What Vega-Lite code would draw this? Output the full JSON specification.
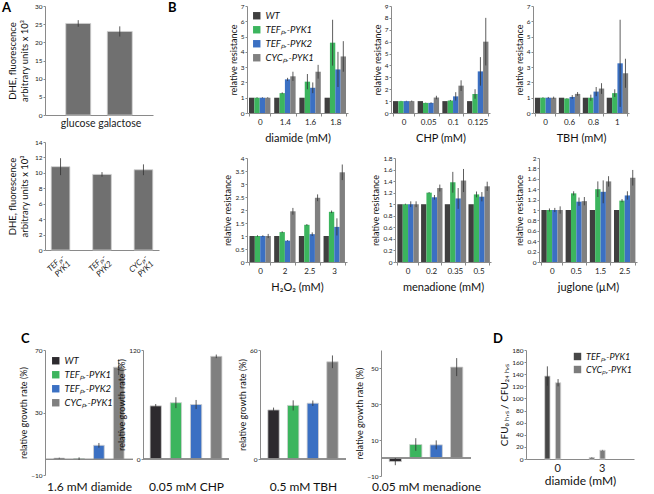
{
  "$schema": "https://vega.github.io/schema/vega-lite/v6.json",
  "padding": {"left": 2, "top": 2, "right": 2, "bottom": 0},
  "background": "white",
  "config": {
    "font": "Lato",
    "view": {"stroke": null},
    "axis": {"domainColor": "#8a8a8a", "tickColor": "#8a8a8a", "tickSize": 2, "labelFontSize": 6.5, "labelColor": "#222", "titleFontSize": 9, "titleFontWeight": "normal", "titleColor": "#111", "grid": false, "labelPadding": 1, "titlePadding": 2, "labelOverlap": false},
    "legend": {"symbolType": "square", "symbolStrokeWidth": 0, "labelFontStyle": "italic", "labelFontSize": 9.5, "symbolSize": 55, "rowPadding": 3, "padding": 0, "offset": 3, "labelColor": "#111"},
    "title": {"fontSize": 13, "fontWeight": "bold", "anchor": "start", "frame": "group", "color": "#000"}
  },
  "datasets": {
    "A1": [
      {"g": "glucose", "v": 25.2, "e": 0.9},
      {"g": "galactose", "v": 23.0, "e": 1.4}
    ],
    "A2": [
      {"g": "TEFₚᵣ- PYK1", "v": 10.8, "e": 1.1},
      {"g": "TEFₚᵣ- PYK2", "v": 9.8, "e": 0.3},
      {"g": "CYCₚᵣ- PYK1", "v": 10.4, "e": 0.7}
    ],
    "B": [
      {"p": "diamide", "c": "0", "s": "WT", "v": 1, "e": 0},
      {"p": "diamide", "c": "0", "s": "TEFₚᵣ-PYK1", "v": 1, "e": 0.03},
      {"p": "diamide", "c": "0", "s": "TEFₚᵣ-PYK2", "v": 1, "e": 0.03},
      {"p": "diamide", "c": "0", "s": "CYCₚᵣ-PYK1", "v": 1, "e": 0.03},
      {"p": "diamide", "c": "1.4", "s": "WT", "v": 1, "e": 0},
      {"p": "diamide", "c": "1.4", "s": "TEFₚᵣ-PYK1", "v": 1.3, "e": 0.05},
      {"p": "diamide", "c": "1.4", "s": "TEFₚᵣ-PYK2", "v": 2.2, "e": 0.1},
      {"p": "diamide", "c": "1.4", "s": "CYCₚᵣ-PYK1", "v": 2.4, "e": 0.3},
      {"p": "diamide", "c": "1.6", "s": "WT", "v": 1, "e": 0},
      {"p": "diamide", "c": "1.6", "s": "TEFₚᵣ-PYK1", "v": 2.05, "e": 0.5},
      {"p": "diamide", "c": "1.6", "s": "TEFₚᵣ-PYK2", "v": 1.65, "e": 0.35},
      {"p": "diamide", "c": "1.6", "s": "CYCₚᵣ-PYK1", "v": 2.7, "e": 0.45},
      {"p": "diamide", "c": "1.8", "s": "WT", "v": 1, "e": 0},
      {"p": "diamide", "c": "1.8", "s": "TEFₚᵣ-PYK1", "v": 4.6, "e": 1.5},
      {"p": "diamide", "c": "1.8", "s": "TEFₚᵣ-PYK2", "v": 2.85, "e": 1.15},
      {"p": "diamide", "c": "1.8", "s": "CYCₚᵣ-PYK1", "v": 3.7, "e": 1.0},
      {"p": "CHP", "c": "0", "s": "WT", "v": 1, "e": 0},
      {"p": "CHP", "c": "0", "s": "TEFₚᵣ-PYK1", "v": 1, "e": 0.02},
      {"p": "CHP", "c": "0", "s": "TEFₚᵣ-PYK2", "v": 1, "e": 0.03},
      {"p": "CHP", "c": "0", "s": "CYCₚᵣ-PYK1", "v": 1, "e": 0.05},
      {"p": "CHP", "c": "0.05", "s": "WT", "v": 1, "e": 0},
      {"p": "CHP", "c": "0.05", "s": "TEFₚᵣ-PYK1", "v": 0.85, "e": 0.02},
      {"p": "CHP", "c": "0.05", "s": "TEFₚᵣ-PYK2", "v": 0.85, "e": 0.05},
      {"p": "CHP", "c": "0.05", "s": "CYCₚᵣ-PYK1", "v": 1.3, "e": 0.15},
      {"p": "CHP", "c": "0.1", "s": "WT", "v": 1, "e": 0},
      {"p": "CHP", "c": "0.1", "s": "TEFₚᵣ-PYK1", "v": 1.05, "e": 0.05},
      {"p": "CHP", "c": "0.1", "s": "TEFₚᵣ-PYK2", "v": 1.4, "e": 0.35},
      {"p": "CHP", "c": "0.1", "s": "CYCₚᵣ-PYK1", "v": 2.3, "e": 0.45},
      {"p": "CHP", "c": "0.125", "s": "WT", "v": 1, "e": 0},
      {"p": "CHP", "c": "0.125", "s": "TEFₚᵣ-PYK1", "v": 1.6, "e": 0.4},
      {"p": "CHP", "c": "0.125", "s": "TEFₚᵣ-PYK2", "v": 3.5, "e": 1.2},
      {"p": "CHP", "c": "0.125", "s": "CYCₚᵣ-PYK1", "v": 6.0, "e": 2.0},
      {"p": "TBH", "c": "0", "s": "WT", "v": 1, "e": 0},
      {"p": "TBH", "c": "0", "s": "TEFₚᵣ-PYK1", "v": 1, "e": 0.03},
      {"p": "TBH", "c": "0", "s": "TEFₚᵣ-PYK2", "v": 1, "e": 0.05},
      {"p": "TBH", "c": "0", "s": "CYCₚᵣ-PYK1", "v": 1, "e": 0.07},
      {"p": "TBH", "c": "0.6", "s": "WT", "v": 1, "e": 0},
      {"p": "TBH", "c": "0.6", "s": "TEFₚᵣ-PYK1", "v": 0.95, "e": 0.02},
      {"p": "TBH", "c": "0.6", "s": "TEFₚᵣ-PYK2", "v": 1.05, "e": 0.12},
      {"p": "TBH", "c": "0.6", "s": "CYCₚᵣ-PYK1", "v": 1.25, "e": 0.12},
      {"p": "TBH", "c": "0.8", "s": "WT", "v": 1, "e": 0},
      {"p": "TBH", "c": "0.8", "s": "TEFₚᵣ-PYK1", "v": 1.0, "e": 0.2},
      {"p": "TBH", "c": "0.8", "s": "TEFₚᵣ-PYK2", "v": 1.4, "e": 0.3},
      {"p": "TBH", "c": "0.8", "s": "CYCₚᵣ-PYK1", "v": 1.6, "e": 0.35},
      {"p": "TBH", "c": "1", "s": "WT", "v": 1, "e": 0},
      {"p": "TBH", "c": "1", "s": "TEFₚᵣ-PYK1", "v": 1.3, "e": 0.25},
      {"p": "TBH", "c": "1", "s": "TEFₚᵣ-PYK2", "v": 3.25, "e": 2.85},
      {"p": "TBH", "c": "1", "s": "CYCₚᵣ-PYK1", "v": 2.6, "e": 0.95},
      {"p": "H2O2", "c": "0", "s": "WT", "v": 1, "e": 0},
      {"p": "H2O2", "c": "0", "s": "TEFₚᵣ-PYK1", "v": 1, "e": 0.03},
      {"p": "H2O2", "c": "0", "s": "TEFₚᵣ-PYK2", "v": 1, "e": 0.03},
      {"p": "H2O2", "c": "0", "s": "CYCₚᵣ-PYK1", "v": 1, "e": 0.08},
      {"p": "H2O2", "c": "2", "s": "WT", "v": 1, "e": 0},
      {"p": "H2O2", "c": "2", "s": "TEFₚᵣ-PYK1", "v": 1.15, "e": 0.03},
      {"p": "H2O2", "c": "2", "s": "TEFₚᵣ-PYK2", "v": 0.82, "e": 0.02},
      {"p": "H2O2", "c": "2", "s": "CYCₚᵣ-PYK1", "v": 1.95, "e": 0.13},
      {"p": "H2O2", "c": "2.5", "s": "WT", "v": 1, "e": 0},
      {"p": "H2O2", "c": "2.5", "s": "TEFₚᵣ-PYK1", "v": 1.43, "e": 0.03},
      {"p": "H2O2", "c": "2.5", "s": "TEFₚᵣ-PYK2", "v": 1.07, "e": 0.07},
      {"p": "H2O2", "c": "2.5", "s": "CYCₚᵣ-PYK1", "v": 2.47, "e": 0.13},
      {"p": "H2O2", "c": "3", "s": "WT", "v": 1, "e": 0},
      {"p": "H2O2", "c": "3", "s": "TEFₚᵣ-PYK1", "v": 1.93, "e": 0.05},
      {"p": "H2O2", "c": "3", "s": "TEFₚᵣ-PYK2", "v": 1.35, "e": 0.33},
      {"p": "H2O2", "c": "3", "s": "CYCₚᵣ-PYK1", "v": 3.45, "e": 0.3},
      {"p": "menadione", "c": "0", "s": "WT", "v": 1, "e": 0},
      {"p": "menadione", "c": "0", "s": "TEFₚᵣ-PYK1", "v": 1, "e": 0.01},
      {"p": "menadione", "c": "0", "s": "TEFₚᵣ-PYK2", "v": 1, "e": 0.05},
      {"p": "menadione", "c": "0", "s": "CYCₚᵣ-PYK1", "v": 1, "e": 0.05},
      {"p": "menadione", "c": "0.2", "s": "WT", "v": 1, "e": 0},
      {"p": "menadione", "c": "0.2", "s": "TEFₚᵣ-PYK1", "v": 1.2, "e": 0.01},
      {"p": "menadione", "c": "0.2", "s": "TEFₚᵣ-PYK2", "v": 1.12, "e": 0.04},
      {"p": "menadione", "c": "0.2", "s": "CYCₚᵣ-PYK1", "v": 1.28, "e": 0.06},
      {"p": "menadione", "c": "0.35", "s": "WT", "v": 1, "e": 0},
      {"p": "menadione", "c": "0.35", "s": "TEFₚᵣ-PYK1", "v": 1.38, "e": 0.18},
      {"p": "menadione", "c": "0.35", "s": "TEFₚᵣ-PYK2", "v": 1.1, "e": 0.18},
      {"p": "menadione", "c": "0.35", "s": "CYCₚᵣ-PYK1", "v": 1.41, "e": 0.2},
      {"p": "menadione", "c": "0.5", "s": "WT", "v": 1, "e": 0},
      {"p": "menadione", "c": "0.5", "s": "TEFₚᵣ-PYK1", "v": 1.17, "e": 0.05},
      {"p": "menadione", "c": "0.5", "s": "TEFₚᵣ-PYK2", "v": 1.13, "e": 0.08},
      {"p": "menadione", "c": "0.5", "s": "CYCₚᵣ-PYK1", "v": 1.31, "e": 0.08},
      {"p": "juglone", "c": "0", "s": "WT", "v": 1, "e": 0},
      {"p": "juglone", "c": "0", "s": "TEFₚᵣ-PYK1", "v": 1, "e": 0.03},
      {"p": "juglone", "c": "0", "s": "TEFₚᵣ-PYK2", "v": 1, "e": 0.04},
      {"p": "juglone", "c": "0", "s": "CYCₚᵣ-PYK1", "v": 1, "e": 0.07},
      {"p": "juglone", "c": "0.5", "s": "WT", "v": 1, "e": 0},
      {"p": "juglone", "c": "0.5", "s": "TEFₚᵣ-PYK1", "v": 1.32, "e": 0.04},
      {"p": "juglone", "c": "0.5", "s": "TEFₚᵣ-PYK2", "v": 1.16, "e": 0.08},
      {"p": "juglone", "c": "0.5", "s": "CYCₚᵣ-PYK1", "v": 1.17, "e": 0.08},
      {"p": "juglone", "c": "1.5", "s": "WT", "v": 1, "e": 0},
      {"p": "juglone", "c": "1.5", "s": "TEFₚᵣ-PYK1", "v": 1.4, "e": 0.15},
      {"p": "juglone", "c": "1.5", "s": "TEFₚᵣ-PYK2", "v": 1.35, "e": 0.22},
      {"p": "juglone", "c": "1.5", "s": "CYCₚᵣ-PYK1", "v": 1.55, "e": 0.1},
      {"p": "juglone", "c": "2.5", "s": "WT", "v": 1, "e": 0},
      {"p": "juglone", "c": "2.5", "s": "TEFₚᵣ-PYK1", "v": 1.18, "e": 0.03},
      {"p": "juglone", "c": "2.5", "s": "TEFₚᵣ-PYK2", "v": 1.28, "e": 0.08},
      {"p": "juglone", "c": "2.5", "s": "CYCₚᵣ-PYK1", "v": 1.62, "e": 0.15}
    ],
    "C": [
      {"p": "diamide", "s": "WT", "v": 0.8, "e": 0.3},
      {"p": "diamide", "s": "TEFₚᵣ-PYK1", "v": 0.5, "e": 0.8},
      {"p": "diamide", "s": "TEFₚᵣ-PYK2", "v": 9, "e": 1.5},
      {"p": "diamide", "s": "CYCₚᵣ-PYK1", "v": 59, "e": 5},
      {"p": "CHP", "s": "WT", "v": 58.5, "e": 2},
      {"p": "CHP", "s": "TEFₚᵣ-PYK1", "v": 62, "e": 6},
      {"p": "CHP", "s": "TEFₚᵣ-PYK2", "v": 60, "e": 5},
      {"p": "CHP", "s": "CYCₚᵣ-PYK1", "v": 113, "e": 2},
      {"p": "TBH", "s": "WT", "v": 27, "e": 1.3},
      {"p": "TBH", "s": "TEFₚᵣ-PYK1", "v": 29.5, "e": 2.8},
      {"p": "TBH", "s": "TEFₚᵣ-PYK2", "v": 30.7, "e": 1.5},
      {"p": "TBH", "s": "CYCₚᵣ-PYK1", "v": 53.5, "e": 3.5},
      {"p": "menadione", "s": "WT", "v": -2, "e": 2},
      {"p": "menadione", "s": "TEFₚᵣ-PYK1", "v": 7.5, "e": 3.5},
      {"p": "menadione", "s": "TEFₚᵣ-PYK2", "v": 7.3, "e": 2.5},
      {"p": "menadione", "s": "CYCₚᵣ-PYK1", "v": 50.5, "e": 5}
    ],
    "D": [
      {"c": "0", "s": "TEFₚᵣ-PYK1", "v": 137, "e": 16},
      {"c": "0", "s": "CYCₚᵣ-PYK1", "v": 126, "e": 6},
      {"c": "3", "s": "TEFₚᵣ-PYK1", "v": 2.5, "e": 0.5},
      {"c": "3", "s": "CYCₚᵣ-PYK1", "v": 14.5, "e": 0.5}
    ]
  },
  "columns": 1,
  "align": "none",
  "spacing": 41,
  "resolve": {"scale": {"color": "independent"}, "legend": {"color": "independent"}},
  "concat": [
    {
      "spacing": 9,
      "resolve": {"scale": {"color": "independent"}, "legend": {"color": "independent"}},
      "hconcat": [
        {
          "spacing": 10,
          "vconcat": [
            {
              "title": {"text": "A", "dx": -43, "offset": -12},
              "width": 108, "height": 109,
              "data": {"name": "A1"},
              "transform": [{"calculate": "datum.v - datum.e", "as": "lo"}, {"calculate": "datum.v + datum.e", "as": "hi"}],
              "encoding": {
                "x": {"field": "g", "type": "nominal", "sort": null, "scale": {"paddingInner": 0.4, "paddingOuter": 0.5}, "axis": {"title": null, "labelAngle": 0, "labelFontSize": 10.5, "ticks": false, "labelPadding": 3}}
              },
              "layer": [
                {"mark": {"type": "bar", "color": "#707070", "stroke": "#d0d0d0", "strokeWidth": 0.8},
                 "encoding": {"y": {"field": "v", "type": "quantitative", "scale": {"domain": [0, 30], "nice": false}, "axis": {"values": [0, 5, 10, 15, 20, 25, 30], "format": "d", "labelOverlap": false, "title": ["DHE, fluorescence", "arbitrary units x 10³"], "titleFontSize": 9.5, "titlePadding": 5}}}},
                {"mark": {"type": "rule", "color": "#333", "strokeWidth": 0.8},
                 "encoding": {"y": {"field": "lo", "type": "quantitative", "axis": {"values": [0, 5, 10, 15, 20, 25, 30], "format": "d", "labelOverlap": false, "title": ["DHE, fluorescence", "arbitrary units x 10³"], "titleFontSize": 9.5, "titlePadding": 5}}, "y2": {"field": "hi"}}}
              ]
            },
            {
              "width": 114, "height": 108,
              "data": {"name": "A2"},
              "transform": [{"calculate": "datum.v - datum.e", "as": "lo"}, {"calculate": "datum.v + datum.e", "as": "hi"}],
              "encoding": {
                "x": {"field": "g", "type": "nominal", "sort": null, "scale": {"paddingInner": 0.55, "paddingOuter": 0.15}, "axis": {"title": null, "labelAngle": -45, "labelFontSize": 8, "labelFontStyle": "italic", "ticks": false, "labelPadding": 3, "labelExpr": "split(datum.label, ' ')", "labelLineHeight": 9}}
              },
              "layer": [
                {"mark": {"type": "bar", "color": "#707070", "stroke": "#d0d0d0", "strokeWidth": 0.8},
                 "encoding": {"y": {"field": "v", "type": "quantitative", "scale": {"domain": [0, 14], "nice": false}, "axis": {"values": [0, 2, 4, 6, 8, 10, 12, 14], "format": "d", "labelOverlap": false, "title": ["DHE, fluorescence", "arbitrary units x 10³"], "titleFontSize": 9.5, "titlePadding": 5}}}},
                {"mark": {"type": "rule", "color": "#333", "strokeWidth": 0.8},
                 "encoding": {"y": {"field": "lo", "type": "quantitative", "axis": {"values": [0, 2, 4, 6, 8, 10, 12, 14], "format": "d", "labelOverlap": false, "title": ["DHE, fluorescence", "arbitrary units x 10³"], "titleFontSize": 9.5, "titlePadding": 5}}, "y2": {"field": "hi"}}}
              ]
            }
          ]
        },
        {
          "spacing": 12,
          "resolve": {"scale": {"color": "independent"}, "legend": {"color": "independent"}},
          "vconcat": [
            {
              "spacing": 25,
              "resolve": {"scale": {"color": "independent"}, "legend": {"color": "independent"}},
              "hconcat": [
                {
                  "title": {"text": "B", "dx": -79, "offset": -12},
                  "width": 101, "height": 107,
                  "data": {"name": "B"},
                  "transform": [{"filter": "datum.p == 'diamide'"}, {"calculate": "datum.v - datum.e", "as": "lo"}, {"calculate": "datum.v + datum.e", "as": "hi"}],
                  "encoding": {
                    "x": {"field": "c", "type": "nominal", "sort": null, "scale": {"domain": ["0", "1.4", "1.6", "1.8"], "paddingInner": 0.15, "paddingOuter": 0.08}, "axis": {"title": "diamide (mM)", "labelAngle": 0, "labelFontSize": 8, "titleFontSize": 11, "tickBand": "extent", "tickSize": 3, "labelPadding": 2, "titlePadding": 6}},
                    "xOffset": {"field": "s", "type": "nominal", "sort": null, "scale": {"domain": ["WT", "TEFₚᵣ-PYK1", "TEFₚᵣ-PYK2", "CYCₚᵣ-PYK1"]}}
                  },
                  "layer": [
                    {"mark": "bar",
                     "encoding": {
                       "y": {"field": "v", "type": "quantitative", "scale": {"domain": [0, 7], "nice": false}, "axis": {"values": [0, 1, 2, 3, 4, 5, 6, 7], "format": "d", "labelOverlap": false, "title": "relative resistance"}},
                       "color": {"field": "s", "type": "nominal", "sort": null, "scale": {"domain": ["WT", "TEFₚᵣ-PYK1", "TEFₚᵣ-PYK2", "CYCₚᵣ-PYK1"], "range": ["#3f3f3f", "#3cb55e", "#3b70c3", "#808080"]}, "legend": {"title": null, "orient": "top-left", "offset": 5}}
                     }},
                    {"transform": [{"filter": "datum.e > 0"}],
                     "mark": {"type": "rule", "color": "#333", "strokeWidth": 0.8},
                     "encoding": {"y": {"field": "lo", "type": "quantitative", "axis": {"values": [0, 1, 2, 3, 4, 5, 6, 7], "format": "d", "labelOverlap": false, "title": "relative resistance"}}, "y2": {"field": "hi"}}}
                  ]
                },
                {
                  "width": 99, "height": 107,
                  "data": {"name": "B"},
                  "transform": [{"filter": "datum.p == 'CHP'"}, {"calculate": "datum.v - datum.e", "as": "lo"}, {"calculate": "datum.v + datum.e", "as": "hi"}],
                  "encoding": {
                    "x": {"field": "c", "type": "nominal", "sort": null, "scale": {"domain": ["0", "0.05", "0.1", "0.125"], "paddingInner": 0.15, "paddingOuter": 0.08}, "axis": {"title": "CHP (mM)", "labelAngle": 0, "labelFontSize": 8, "titleFontSize": 11, "tickBand": "extent", "tickSize": 3, "labelPadding": 2, "titlePadding": 6}},
                    "xOffset": {"field": "s", "type": "nominal", "sort": null, "scale": {"domain": ["WT", "TEFₚᵣ-PYK1", "TEFₚᵣ-PYK2", "CYCₚᵣ-PYK1"]}}
                  },
                  "layer": [
                    {"mark": "bar",
                     "encoding": {
                       "y": {"field": "v", "type": "quantitative", "scale": {"domain": [0, 9], "nice": false}, "axis": {"values": [0, 1, 2, 3, 4, 5, 6, 7, 8, 9], "format": "d", "labelOverlap": false, "title": "relative resistance"}},
                       "color": {"field": "s", "type": "nominal", "sort": null, "scale": {"domain": ["WT", "TEFₚᵣ-PYK1", "TEFₚᵣ-PYK2", "CYCₚᵣ-PYK1"], "range": ["#3f3f3f", "#3cb55e", "#3b70c3", "#808080"]}, "legend": null}
                     }},
                    {"transform": [{"filter": "datum.e > 0"}],
                     "mark": {"type": "rule", "color": "#333", "strokeWidth": 0.8},
                     "encoding": {"y": {"field": "lo", "type": "quantitative", "axis": {"values": [0, 1, 2, 3, 4, 5, 6, 7, 8, 9], "format": "d", "labelOverlap": false, "title": "relative resistance"}}, "y2": {"field": "hi"}}}
                  ]
                },
                {
                  "width": 96, "height": 107,
                  "data": {"name": "B"},
                  "transform": [{"filter": "datum.p == 'TBH'"}, {"calculate": "datum.v - datum.e", "as": "lo"}, {"calculate": "datum.v + datum.e", "as": "hi"}],
                  "encoding": {
                    "x": {"field": "c", "type": "nominal", "sort": null, "scale": {"domain": ["0", "0.6", "0.8", "1"], "paddingInner": 0.15, "paddingOuter": 0.08}, "axis": {"title": "TBH (mM)", "labelAngle": 0, "labelFontSize": 8, "titleFontSize": 11, "tickBand": "extent", "tickSize": 3, "labelPadding": 2, "titlePadding": 6}},
                    "xOffset": {"field": "s", "type": "nominal", "sort": null, "scale": {"domain": ["WT", "TEFₚᵣ-PYK1", "TEFₚᵣ-PYK2", "CYCₚᵣ-PYK1"]}}
                  },
                  "layer": [
                    {"mark": "bar",
                     "encoding": {
                       "y": {"field": "v", "type": "quantitative", "scale": {"domain": [0, 7], "nice": false}, "axis": {"values": [0, 1, 2, 3, 4, 5, 6, 7], "format": "d", "labelOverlap": false, "title": "relative resistance"}},
                       "color": {"field": "s", "type": "nominal", "sort": null, "scale": {"domain": ["WT", "TEFₚᵣ-PYK1", "TEFₚᵣ-PYK2", "CYCₚᵣ-PYK1"], "range": ["#3f3f3f", "#3cb55e", "#3b70c3", "#808080"]}, "legend": null}
                     }},
                    {"transform": [{"filter": "datum.e > 0"}],
                     "mark": {"type": "rule", "color": "#333", "strokeWidth": 0.8},
                     "encoding": {"y": {"field": "lo", "type": "quantitative", "axis": {"values": [0, 1, 2, 3, 4, 5, 6, 7], "format": "d", "labelOverlap": false, "title": "relative resistance"}}, "y2": {"field": "hi"}}}
                  ]
                }
              ]
            },
            {
              "spacing": 24,
              "resolve": {"scale": {"color": "independent"}, "legend": {"color": "independent"}},
              "hconcat": [
                {
                  "width": 100, "height": 104,
                  "data": {"name": "B"},
                  "transform": [{"filter": "datum.p == 'H2O2'"}, {"calculate": "datum.v - datum.e", "as": "lo"}, {"calculate": "datum.v + datum.e", "as": "hi"}],
                  "encoding": {
                    "x": {"field": "c", "type": "nominal", "sort": null, "scale": {"domain": ["0", "2", "2.5", "3"], "paddingInner": 0.15, "paddingOuter": 0.1}, "axis": {"title": "H₂O₂ (mM)", "labelAngle": 0, "labelFontSize": 8, "titleFontSize": 11, "tickBand": "extent", "tickSize": 3, "labelPadding": 2, "titlePadding": 6}},
                    "xOffset": {"field": "s", "type": "nominal", "sort": null, "scale": {"domain": ["WT", "TEFₚᵣ-PYK1", "TEFₚᵣ-PYK2", "CYCₚᵣ-PYK1"]}}
                  },
                  "layer": [
                    {"mark": "bar",
                     "encoding": {
                       "y": {"field": "v", "type": "quantitative", "scale": {"domain": [0, 4], "nice": false}, "axis": {"values": [0, 0.5, 1, 1.5, 2, 2.5, 3, 3.5, 4], "format": "~g", "labelOverlap": false, "title": "relative resistance"}},
                       "color": {"field": "s", "type": "nominal", "sort": null, "scale": {"domain": ["WT", "TEFₚᵣ-PYK1", "TEFₚᵣ-PYK2", "CYCₚᵣ-PYK1"], "range": ["#3f3f3f", "#3cb55e", "#3b70c3", "#808080"]}, "legend": null}
                     }},
                    {"transform": [{"filter": "datum.e > 0"}],
                     "mark": {"type": "rule", "color": "#333", "strokeWidth": 0.8},
                     "encoding": {"y": {"field": "lo", "type": "quantitative", "axis": {"values": [0, 0.5, 1, 1.5, 2, 2.5, 3, 3.5, 4], "format": "~g", "labelOverlap": false, "title": "relative resistance"}}, "y2": {"field": "hi"}}}
                  ]
                },
                {
                  "width": 96, "height": 104,
                  "data": {"name": "B"},
                  "transform": [{"filter": "datum.p == 'menadione'"}, {"calculate": "datum.v - datum.e", "as": "lo"}, {"calculate": "datum.v + datum.e", "as": "hi"}],
                  "encoding": {
                    "x": {"field": "c", "type": "nominal", "sort": null, "scale": {"domain": ["0", "0.2", "0.35", "0.5"], "paddingInner": 0.15, "paddingOuter": 0.1}, "axis": {"title": "menadione (mM)", "labelAngle": 0, "labelFontSize": 8, "titleFontSize": 11, "tickBand": "extent", "tickSize": 3, "labelPadding": 2, "titlePadding": 6}},
                    "xOffset": {"field": "s", "type": "nominal", "sort": null, "scale": {"domain": ["WT", "TEFₚᵣ-PYK1", "TEFₚᵣ-PYK2", "CYCₚᵣ-PYK1"]}}
                  },
                  "layer": [
                    {"mark": "bar",
                     "encoding": {
                       "y": {"field": "v", "type": "quantitative", "scale": {"domain": [0, 1.8], "nice": false}, "axis": {"values": [0, 0.2, 0.4, 0.6, 0.8, 1, 1.2, 1.4, 1.6, 1.8], "format": "~g", "labelOverlap": false, "title": "relative resistance"}},
                       "color": {"field": "s", "type": "nominal", "sort": null, "scale": {"domain": ["WT", "TEFₚᵣ-PYK1", "TEFₚᵣ-PYK2", "CYCₚᵣ-PYK1"], "range": ["#3f3f3f", "#3cb55e", "#3b70c3", "#808080"]}, "legend": null}
                     }},
                    {"transform": [{"filter": "datum.e > 0"}],
                     "mark": {"type": "rule", "color": "#333", "strokeWidth": 0.8},
                     "encoding": {"y": {"field": "lo", "type": "quantitative", "axis": {"values": [0, 0.2, 0.4, 0.6, 0.8, 1, 1.2, 1.4, 1.6, 1.8], "format": "~g", "labelOverlap": false, "title": "relative resistance"}}, "y2": {"field": "hi"}}}
                  ]
                },
                {
                  "width": 98, "height": 104,
                  "data": {"name": "B"},
                  "transform": [{"filter": "datum.p == 'juglone'"}, {"calculate": "datum.v - datum.e", "as": "lo"}, {"calculate": "datum.v + datum.e", "as": "hi"}],
                  "encoding": {
                    "x": {"field": "c", "type": "nominal", "sort": null, "scale": {"domain": ["0", "0.5", "1.5", "2.5"], "paddingInner": 0.15, "paddingOuter": 0.1}, "axis": {"title": "juglone (µM)", "labelAngle": 0, "labelFontSize": 8, "titleFontSize": 11, "tickBand": "extent", "tickSize": 3, "labelPadding": 2, "titlePadding": 6}},
                    "xOffset": {"field": "s", "type": "nominal", "sort": null, "scale": {"domain": ["WT", "TEFₚᵣ-PYK1", "TEFₚᵣ-PYK2", "CYCₚᵣ-PYK1"]}}
                  },
                  "layer": [
                    {"mark": "bar",
                     "encoding": {
                       "y": {"field": "v", "type": "quantitative", "scale": {"domain": [0, 2], "nice": false}, "axis": {"values": [0, 0.2, 0.4, 0.6, 0.8, 1, 1.2, 1.4, 1.6, 1.8, 2], "format": "~g", "labelOverlap": false, "title": "relative resistance"}},
                       "color": {"field": "s", "type": "nominal", "sort": null, "scale": {"domain": ["WT", "TEFₚᵣ-PYK1", "TEFₚᵣ-PYK2", "CYCₚᵣ-PYK1"], "range": ["#3f3f3f", "#3cb55e", "#3b70c3", "#808080"]}, "legend": null}
                     }},
                    {"transform": [{"filter": "datum.e > 0"}],
                     "mark": {"type": "rule", "color": "#333", "strokeWidth": 0.8},
                     "encoding": {"y": {"field": "lo", "type": "quantitative", "axis": {"values": [0, 0.2, 0.4, 0.6, 0.8, 1, 1.2, 1.4, 1.6, 1.8, 2], "format": "~g", "labelOverlap": false, "title": "relative resistance"}}, "y2": {"field": "hi"}}}
                  ]
                }
              ]
            }
          ]
        }
      ]
    },
    {
      "spacing": 12,
      "resolve": {"scale": {"color": "independent"}, "legend": {"color": "independent"}},
      "hconcat": [
        {
          "spacing": -17,
          "resolve": {"scale": {"color": "independent"}, "legend": {"color": "independent"}},
          "hconcat": [
            {
              "title": {"text": "C", "dx": -24, "offset": 1},
              "width": 88, "height": 125,
              "data": {"name": "C"},
              "transform": [{"filter": "datum.p == 'diamide'"}, {"calculate": "datum.v - datum.e", "as": "lo"}, {"calculate": "datum.v + datum.e", "as": "hi"}],
              "layer": [
                {"mark": {"type": "bar", "stroke": "#cfcfcf", "strokeWidth": 0.8},
                 "encoding": {
                   "x": {"field": "s", "type": "nominal", "sort": null, "scale": {"domain": ["WT", "TEFₚᵣ-PYK1", "TEFₚᵣ-PYK2", "CYCₚᵣ-PYK1"], "paddingInner": 0.46, "paddingOuter": 0.45}, "axis": {"title": "1.6 mM diamide", "labels": false, "ticks": false, "domain": false, "titleFontSize": 12, "titlePadding": 6}},
                   "y": {"field": "v", "type": "quantitative", "scale": {"domain": [-10, 70], "nice": false}, "axis": {"values": [-10, 0, 10, 20, 30, 40, 50, 60, 70], "format": "d", "labelOverlap": false, "title": "relative growth rate (%)"}},
                   "color": {"field": "s", "type": "nominal", "sort": null, "scale": {"domain": ["WT", "TEFₚᵣ-PYK1", "TEFₚᵣ-PYK2", "CYCₚᵣ-PYK1"], "range": ["#2d2a2e", "#3cb55e", "#3b70c3", "#808080"]}, "legend": {"title": null, "orient": "top-left", "offset": 6}}
                 }},
                {"mark": {"type": "rule", "color": "#8a8a8a"}, "encoding": {"y": {"datum": 0}}},
                {"mark": {"type": "rule", "color": "#333", "strokeWidth": 0.8},
                 "encoding": {"x": {"field": "s", "type": "nominal", "sort": null, "axis": {"title": "1.6 mM diamide", "labels": false, "ticks": false, "domain": false, "titleFontSize": 12, "titlePadding": 6}}, "y": {"field": "lo", "type": "quantitative", "axis": {"values": [-10, 0, 10, 20, 30, 40, 50, 60, 70], "format": "d", "labelOverlap": false, "title": "relative growth rate (%)"}}, "y2": {"field": "hi"}}}
              ]
            },
            {
              "spacing": 8,
              "resolve": {"scale": {"color": "independent"}, "legend": {"color": "independent"}},
              "hconcat": [
                {
                  "width": 86, "height": 109,
                  "data": {"name": "C"},
                  "transform": [{"filter": "datum.p == 'CHP'"}, {"calculate": "datum.v - datum.e", "as": "lo"}, {"calculate": "datum.v + datum.e", "as": "hi"}],
                  "layer": [
                    {"mark": {"type": "bar", "stroke": "#cfcfcf", "strokeWidth": 0.8},
                     "encoding": {
                       "x": {"field": "s", "type": "nominal", "sort": null, "scale": {"domain": ["WT", "TEFₚᵣ-PYK1", "TEFₚᵣ-PYK2", "CYCₚᵣ-PYK1"], "paddingInner": 0.44, "paddingOuter": 0.35}, "axis": {"title": "0.05 mM CHP", "labels": false, "ticks": false, "domain": false, "titleFontSize": 12, "titlePadding": 22}},
                       "y": {"field": "v", "type": "quantitative", "scale": {"domain": [0, 120], "nice": false}, "axis": {"values": [0, 20, 40, 60, 80, 100, 120], "format": "d", "labelOverlap": false, "title": "relative growth rate (%)"}},
                       "color": {"field": "s", "type": "nominal", "sort": null, "scale": {"domain": ["WT", "TEFₚᵣ-PYK1", "TEFₚᵣ-PYK2", "CYCₚᵣ-PYK1"], "range": ["#2d2a2e", "#3cb55e", "#3b70c3", "#808080"]}, "legend": null}
                     }},
                    {"mark": {"type": "rule", "color": "#8a8a8a"}, "encoding": {"y": {"datum": 0}}},
                    {"mark": {"type": "rule", "color": "#333", "strokeWidth": 0.8},
                     "encoding": {"x": {"field": "s", "type": "nominal", "sort": null, "axis": {"title": "0.05 mM CHP", "labels": false, "ticks": false, "domain": false, "titleFontSize": 12, "titlePadding": 22}}, "y": {"field": "lo", "type": "quantitative", "axis": {"values": [0, 20, 40, 60, 80, 100, 120], "format": "d", "labelOverlap": false, "title": "relative growth rate (%)"}}, "y2": {"field": "hi"}}}
                  ]
                },
                {
                  "width": 86, "height": 109,
                  "data": {"name": "C"},
                  "transform": [{"filter": "datum.p == 'TBH'"}, {"calculate": "datum.v - datum.e", "as": "lo"}, {"calculate": "datum.v + datum.e", "as": "hi"}],
                  "layer": [
                    {"mark": {"type": "bar", "stroke": "#cfcfcf", "strokeWidth": 0.8},
                     "encoding": {
                       "x": {"field": "s", "type": "nominal", "sort": null, "scale": {"domain": ["WT", "TEFₚᵣ-PYK1", "TEFₚᵣ-PYK2", "CYCₚᵣ-PYK1"], "paddingInner": 0.42, "paddingOuter": 0.4}, "axis": {"title": "0.5 mM TBH", "labels": false, "ticks": false, "domain": false, "titleFontSize": 12, "titlePadding": 22}},
                       "y": {"field": "v", "type": "quantitative", "scale": {"domain": [0, 60], "nice": false}, "axis": {"values": [0, 10, 20, 30, 40, 50, 60], "format": "d", "labelOverlap": false, "title": "relative growth rate (%)"}},
                       "color": {"field": "s", "type": "nominal", "sort": null, "scale": {"domain": ["WT", "TEFₚᵣ-PYK1", "TEFₚᵣ-PYK2", "CYCₚᵣ-PYK1"], "range": ["#2d2a2e", "#3cb55e", "#3b70c3", "#808080"]}, "legend": null}
                     }},
                    {"mark": {"type": "rule", "color": "#8a8a8a"}, "encoding": {"y": {"datum": 0}}},
                    {"mark": {"type": "rule", "color": "#333", "strokeWidth": 0.8},
                     "encoding": {"x": {"field": "s", "type": "nominal", "sort": null, "axis": {"title": "0.5 mM TBH", "labels": false, "ticks": false, "domain": false, "titleFontSize": 12, "titlePadding": 22}}, "y": {"field": "lo", "type": "quantitative", "axis": {"values": [0, 10, 20, 30, 40, 50, 60], "format": "d", "labelOverlap": false, "title": "relative growth rate (%)"}}, "y2": {"field": "hi"}}}
                  ]
                },
                {
                  "width": 90, "height": 126,
                  "data": {"name": "C"},
                  "transform": [{"filter": "datum.p == 'menadione'"}, {"calculate": "datum.v - datum.e", "as": "lo"}, {"calculate": "datum.v + datum.e", "as": "hi"}],
                  "layer": [
                    {"mark": {"type": "bar", "stroke": "#cfcfcf", "strokeWidth": 0.8},
                     "encoding": {
                       "x": {"field": "s", "type": "nominal", "sort": null, "scale": {"domain": ["WT", "TEFₚᵣ-PYK1", "TEFₚᵣ-PYK2", "CYCₚᵣ-PYK1"], "paddingInner": 0.4, "paddingOuter": 0.4}, "axis": {"title": "0.05 mM menadione", "labels": false, "ticks": false, "domain": false, "titleFontSize": 12, "titlePadding": 5}},
                       "y": {"field": "v", "type": "quantitative", "scale": {"domain": [-10, 60], "nice": false}, "axis": {"values": [-10, 0, 10, 20, 30, 40, 50, 60], "format": "d", "labelOverlap": false, "title": "relative growth rate (%)"}},
                       "color": {"field": "s", "type": "nominal", "sort": null, "scale": {"domain": ["WT", "TEFₚᵣ-PYK1", "TEFₚᵣ-PYK2", "CYCₚᵣ-PYK1"], "range": ["#2d2a2e", "#3cb55e", "#3b70c3", "#808080"]}, "legend": null}
                     }},
                    {"mark": {"type": "rule", "color": "#8a8a8a"}, "encoding": {"y": {"datum": 0}}},
                    {"mark": {"type": "rule", "color": "#333", "strokeWidth": 0.8},
                     "encoding": {"x": {"field": "s", "type": "nominal", "sort": null, "axis": {"title": "0.05 mM menadione", "labels": false, "ticks": false, "domain": false, "titleFontSize": 12, "titlePadding": 5}}, "y": {"field": "lo", "type": "quantitative", "axis": {"values": [-10, 0, 10, 20, 30, 40, 50, 60], "format": "d", "labelOverlap": false, "title": "relative growth rate (%)"}}, "y2": {"field": "hi"}}}
                  ]
                }
              ]
            }
          ]
        },
        {
          "title": {"text": "D", "dx": -33, "offset": 1},
          "width": 108, "height": 109,
          "data": {"name": "D"},
          "transform": [{"calculate": "datum.v - datum.e", "as": "lo"}, {"calculate": "datum.v + datum.e", "as": "hi"}],
          "encoding": {
            "x": {"field": "c", "type": "nominal", "sort": null, "scale": {"domain": ["0", "3"], "paddingInner": 0.17, "paddingOuter": 0.3}, "axis": {"title": "diamide (mM)", "labelAngle": 0, "labelFontSize": 11, "titleFontSize": 12, "ticks": false, "titlePadding": 2, "labelPadding": 3}},
            "xOffset": {"field": "s", "type": "nominal", "sort": null, "scale": {"domain": ["TEFₚᵣ-PYK1", "CYCₚᵣ-PYK1"]}}
          },
          "layer": [
            {"mark": {"type": "bar", "stroke": "#d6d6d6", "strokeWidth": 0.8},
             "encoding": {
               "y": {"field": "v", "type": "quantitative", "scale": {"domain": [0, 180], "nice": false}, "axis": {"values": [0, 20, 40, 60, 80, 100, 120, 140, 160, 180], "format": "d", "labelOverlap": false, "title": "CFU₀ ₕᵣₛ / CFU₂₄ ₕᵣₛ", "titleFontSize": 10}},
               "color": {"field": "s", "type": "nominal", "sort": null, "scale": {"domain": ["TEFₚᵣ-PYK1", "CYCₚᵣ-PYK1"], "range": ["#474747", "#7c7c7c"]}, "legend": {"title": null, "orient": "top-right", "offset": 2, "labelFontSize": 9}}
             }},
            {"mark": {"type": "rule", "color": "#333", "strokeWidth": 0.8},
             "encoding": {"y": {"field": "lo", "type": "quantitative", "axis": {"values": [0, 20, 40, 60, 80, 100, 120, 140, 160, 180], "format": "d", "labelOverlap": false, "title": "CFU₀ ₕᵣₛ / CFU₂₄ ₕᵣₛ", "titleFontSize": 10}}, "y2": {"field": "hi"}}}
          ]
        }
      ]
    }
  ]
}
